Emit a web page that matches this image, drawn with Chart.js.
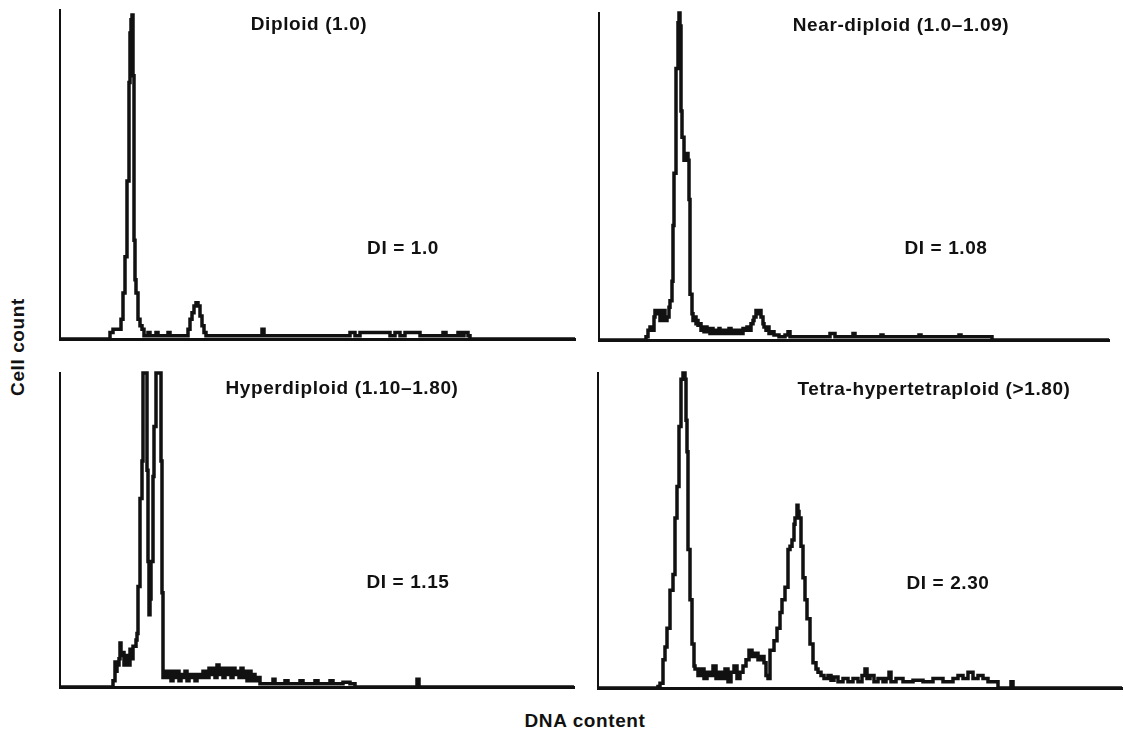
<!DOCTYPE html>
<html>
<head>
<meta charset="utf-8">
<script src="https://cdn.jsdelivr.net/npm/chart.js@4.4.0/dist/chart.umd.min.js"></script>
<style>
  html, body { margin:0; padding:0; background:#fff; }
  body { width:1124px; height:730px; position:relative; overflow:hidden; }
  canvas { position:absolute; }
  .lbl { position:absolute; transform:translate(-50%,-50%); font-family:"Liberation Sans", Arial, sans-serif; font-weight:bold; font-size:19px; line-height:1; color:#111; letter-spacing:0.6px; white-space:nowrap; }
</style>
</head>
<body>
<canvas id="c1"></canvas>
<canvas id="c2"></canvas>
<canvas id="c3"></canvas>
<canvas id="c4"></canvas>
<script>
// ---- Data: [channel, relative cell count (% of axis height)] ----
const diploid = [[0,0],[48,0],[50,2],[53,3],[58,3],[61,6],[63,14],[65,25],[67,48],[69,78],[70,93],[71,97],[72,98.5],[73,80],[74,30],[75,18],[76,14],[78,6],[80,4],[82,3],[84,1],[88,2],[90,1],[96,2],[98,1],[104,1],[108,2],[110,1],[118,1],[122,1],[126,1],[128,3],[130,6],[132,8],[134,10],[136,11],[138,10],[140,7],[142,4],[144,2],[146,1],[160,1],[170,1],[200,1],[202,3],[204,1],[230,1],[260,1],[285,1],[290,2],[295,1],[300,2],[330,1],[335,2],[340,1],[345,2],[360,1],[380,1],[383,2],[386,1],[395,1],[398,2],[401,1],[404,2],[408,1],[410,0],[515,0]];

const nearDiploid = [[0,0],[46,0],[47,1],[49,3],[51,4],[53,3],[55,7],[56,9],[58,8],[59,9],[61,6],[63,8],[64,9],[66,6],[68,7],[70,10],[71,12],[73,18],[74,35],[75,51],[77,83],[79,97],[80,100],[81,96],[82,70],[83,62],[85,55],[87,57],[89,55],[90,43],[91,14],[93,8],[94,6],[95,7],[97,5],[98,6],[99,4.5],[101,5],[102,3],[104,4],[105,2.5],[107,4],[108,2.5],[110,3.5],[111,2],[113,3.5],[114,2],[116,3],[118,2],[120,3.5],[121,2],[123,3],[125,2],[127,3],[128,2],[130,3.5],[132,2],[134,3],[135,2],[137,3],[138,2],[140,3],[142,2],[144,3.5],[146,3],[148,4],[150,3],[152,5],[154,6],[155,7],[157,9],[159,8],[160,9],[162,7],[164,5],[165,4],[167,3],[168,4],[170,2],[172,2.5],[175,1.5],[180,1],[186,1.5],[189,2.5],[191,1],[200,1],[230,1],[231,2],[236,1],[252,1],[254,2],[256,1],[280,1],[282,1.5],[284,1],[300,1],[320,1.5],[322,1],[340,1],[360,1.5],[362,1],[380,1],[392,1],[393,0],[510,0]];

const hyperdiploid = [[0,0],[52,0],[53,2],[55,8],[56,5],[57,7],[59,9],[60,14],[61,10],[63,11],[64,7],[65,9],[67,10],[68,7],[70,12],[72,9],[73,13],[76,15],[77,17],[78,32],[80,60],[82,72],[83,100],[86,100],[87,69],[88,40],[89,23],[90,28],[91,40],[93,67],[94,83],[96,100],[99,100],[101,72],[102,30],[103,3],[105,5],[107,3],[109,5],[111,2],[113,5],[115,3],[117,5],[119,2],[121,4],[123,3],[125,5],[127,2],[129,4],[131,3],[133,4],[135,2],[137,4],[140,3],[143,5],[146,3],[149,6],[151,4],[153,6],[155,3],[157,7],[159,4],[161,6],[163,3],[165,6],[167,4],[169,6],[171,3],[173,6],[175,4],[177,5],[179,3],[181,6],[183,3],[185,5],[187,2],[189,5],[191,2],[193,4],[195,2],[197,3],[200,1],[203,1],[213,2.5],[215,1],[225,2],[228,1],[240,2],[243,1],[255,2],[258,1],[270,2],[273,1],[283,1.5],[290,1],[295,0],[355,0],[357,2.5],[359,0],[514,0]];

const tetraploid = [[0,0],[58,0],[60,0.5],[62,1.5],[65,9],[67,13],[69,19],[72,31],[75,36],[77,54],[79,64],[81,83],[83,98],[85,100],[87,98],[88,85],[89,75],[90,44],[92,28],[94,14],[96,7],[97,6],[100,4],[103,6],[106,3],[109,5],[112,4],[115,7],[118,3],[121,5],[124,3],[127,6],[130,2],[133,5],[136,7],[139,3],[142,5],[145,7],[148,9],[151,12],[154,10],[157,11],[160,9],[163,10],[166,8],[168,4],[170,3],[172,12],[176,15],[179,19],[182,24],[184,28],[187,32],[190,44],[192,45],[194,47],[196,52],[197,54],[199,58],[200,56],[201,54],[203,45],[205,35],[207,28],[209,22],[212,14],[215,8],[218,6],[220,5],[223,4],[226,3],[230,4],[233,2.5],[236,3.5],[240,2],[245,3],[250,2],[255,3],[260,2],[264,4],[267,6],[269,3],[272,4],[276,2],[280,3],[285,2],[288,3],[291,5],[293,2],[298,3],[305,2],[315,2.5],[325,2],[335,3],[345,2],[355,3],[360,4],[365,3],[370,5],[375,3],[380,4],[385,3],[390,2],[399,2],[400,0],[411,0],[413,2],[415,0],[524,0]];

const titles = ["Diploid (1.0)", "Near-diploid (1.0\u20131.09)", "Hyperdiploid (1.10\u20131.80)", "Tetra-hypertetraploid (>1.80)"];
const diLabels = ["DI = 1.0", "DI = 1.08", "DI = 1.15", "DI = 2.30"];
const xTitle = "DNA content";
const yTitle = "Cell count";

// ---- Layout ----
const PAD = 4;
const panels = [
  { id:'c1', data:diploid,      xMax:515, left:60,  top:10,  w:515, h:329, title:[309,23],  di:[403,247] },
  { id:'c2', data:nearDiploid,  xMax:510, left:599, top:13,  w:510, h:327, title:[901,24],  di:[946,247] },
  { id:'c3', data:hyperdiploid, xMax:514, left:60,  top:373, w:514, h:314, title:[342,387], di:[408,581] },
  { id:'c4', data:tetraploid,   xMax:524, left:598, top:373, w:524, h:315, title:[934,388], di:[948,582] }
];

function addLabel(text, x, y, extra) {
  const d = document.createElement('div');
  d.className = 'lbl';
  d.textContent = text;
  d.style.left = x + 'px';
  d.style.top = y + 'px';
  if (extra) d.style.transform = extra;
  document.body.appendChild(d);
}

panels.forEach((p, i) => {
  const cv = document.getElementById(p.id);
  cv.width = p.w + 2 * PAD;
  cv.height = p.h + 2 * PAD;
  cv.style.left = (p.left - PAD) + 'px';
  cv.style.top = (p.top - PAD) + 'px';
  new Chart(cv, {
    type: 'line',
    data: {
      datasets: [{
        data: p.data.map(([x, y]) => ({ x, y })),
        borderColor: '#111',
        borderWidth: 3.5,
        pointRadius: 0,
        stepped: true,
        fill: false,
        clip: 2
      }]
    },
    options: {
      responsive: false,
      animation: false,
      devicePixelRatio: 1,
      events: [],
      layout: { padding: PAD, autoPadding: false },
      plugins: { legend: { display: false }, tooltip: { enabled: false }, title: { display: false } },
      scales: {
        x: { type: 'linear', min: 0, max: p.xMax, ticks: { display: false }, grid: { display: false, drawTicks: false }, border: { display: true, color: '#111', width: 3 } },
        y: { type: 'linear', min: 0, max: 100, ticks: { display: false }, grid: { display: false, drawTicks: false }, border: { display: true, color: '#111', width: 2 } }
      }
    }
  });
  addLabel(titles[i], p.title[0], p.title[1]);
  addLabel(diLabels[i], p.di[0], p.di[1]);
});

addLabel(yTitle, 17, 347, 'translate(-50%,-50%) rotate(-90deg)');
addLabel(xTitle, 585, 720);
</script>
</body>
</html>
